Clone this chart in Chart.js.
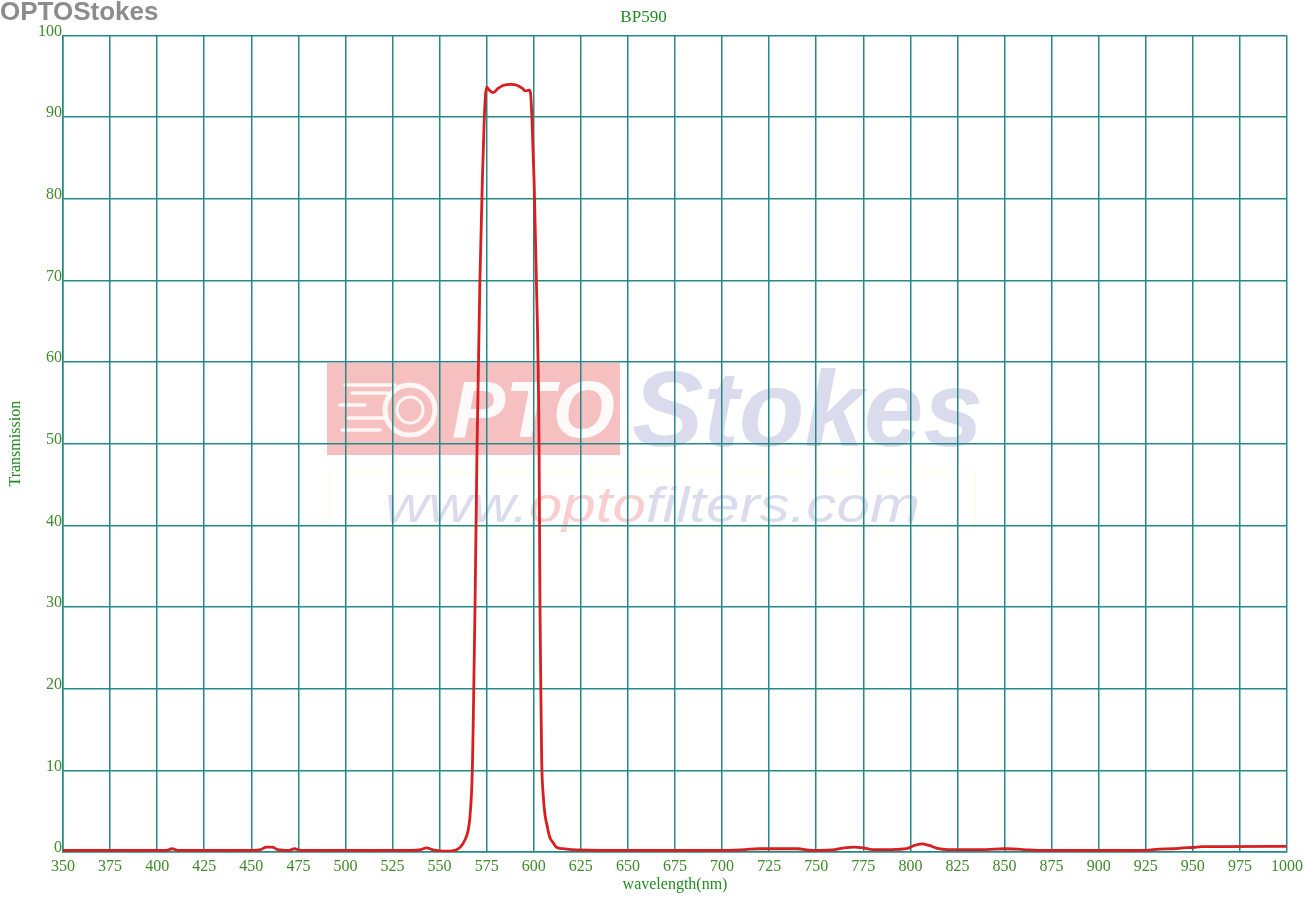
<!DOCTYPE html>
<html>
<head>
<meta charset="utf-8">
<title>BP590</title>
<script src="https://cdn.jsdelivr.net/npm/chart.js@4"></script>
<style>
  html, body { margin: 0; padding: 0; background: #fff; }
  #wrap { width: 1305px; height: 903px; position: relative; }
</style>
</head>
<body>
<div id="wrap"><canvas id="bp"></canvas></div>
<script>
// wavelength (nm) and transmission (%)
const wavelength = [350, 380, 405, 408, 411, 430, 450, 455, 458, 461, 464, 470, 473, 476, 480, 500, 520, 535, 540, 543, 546, 550, 555, 558, 561, 563.5, 565, 566, 567, 567.5, 568, 568.8, 569.9, 571.4, 572.7, 573.6, 574.3, 575, 576, 578.5, 581, 584, 588, 591, 594, 595.5, 597.6, 598.3, 599, 600.2, 601.2, 602.8, 603.3, 603.8, 604.2, 605, 606, 607.2, 608.5, 610.4, 612, 615.5, 620, 650, 700, 712, 720, 740, 748, 752, 760, 765, 770, 775, 780, 790, 798, 802, 806, 810, 815, 820, 840, 850, 860, 870, 900, 925, 932, 940, 945, 950, 955, 1000];
const transmission = [0.2, 0.2, 0.2, 0.4, 0.2, 0.2, 0.2, 0.3, 0.6, 0.6, 0.3, 0.2, 0.4, 0.2, 0.2, 0.2, 0.2, 0.2, 0.3, 0.5, 0.3, 0.15, 0.1, 0.2, 0.6, 1.5, 2.5, 4, 7.5, 11.3, 18, 30, 50, 70, 82.3, 89, 92.5, 93.7, 93.4, 93.0, 93.5, 93.9, 94.0, 93.9, 93.5, 93.2, 93.3, 92.9, 90, 82, 72, 50, 30, 19, 11.3, 7, 4.5, 3.1, 1.8, 1.1, 0.6, 0.4, 0.3, 0.2, 0.2, 0.3, 0.4, 0.4, 0.2, 0.2, 0.3, 0.5, 0.6, 0.5, 0.3, 0.3, 0.4, 0.8, 1.0, 0.8, 0.4, 0.3, 0.3, 0.4, 0.3, 0.2, 0.2, 0.2, 0.35, 0.4, 0.5, 0.55, 0.65, 0.7, 0.7];

const xMin = 350, xMax = 1000, xStep = 25;
const yMin = 0, yMax = 100, yStep = 10;
const chartTitle = "BP590";
const xTitle = "wavelength(nm)";
const yTitle = "Transmission";

const gridColor = "#238a89";
const tickColor = "#3f8a2a";
const titleColor = "#228b22";
const serif = "'Liberation Serif', 'Times New Roman', serif";
const sans = "'Liberation Sans', Arial, sans-serif";

const points = wavelength.map((w, i) => ({ x: w, y: transmission[i] }));

// faint company watermark, drawn under the grid
const watermark = {
  id: "watermark",
  beforeDraw(chart) {
    const ctx = chart.ctx;
    ctx.save();
    // top-left brand text
    ctx.fillStyle = "#8c8c8c";
    ctx.font = "bold 26px " + sans;
    ctx.textBaseline = "alphabetic";
    ctx.fillText("OPTOStokes", 0, 20);

    // pink logo box
    ctx.fillStyle = "rgba(242,150,150,0.6)";
    ctx.fillRect(327, 363, 293, 92);
    ctx.strokeStyle = "rgba(255,255,255,0.85)";
    ctx.lineWidth = 3.5;
    ctx.lineCap = "round";
    [[345, 395, 385], [352, 388, 393], [340, 365, 405], [348, 385, 418], [342, 380, 430]].forEach(([a, b, y]) => {
      ctx.beginPath(); ctx.moveTo(a, y); ctx.lineTo(b, y); ctx.stroke();
    });
    ctx.lineWidth = 5;
    ctx.beginPath(); ctx.arc(410, 410, 25, 0, Math.PI * 2); ctx.stroke();
    ctx.lineWidth = 3;
    ctx.beginPath(); ctx.arc(410, 410, 13, 0, Math.PI * 2); ctx.stroke();
    ctx.fillStyle = "rgba(255,255,255,0.92)";
    ctx.font = "italic bold 80px " + sans;
    ctx.fillText("PTO", 452, 437);

    ctx.fillStyle = "rgba(205,208,232,0.75)";
    ctx.font = "italic bold 107px " + sans;
    ctx.fillText("Stokes", 632, 446);

    // url line, stretched to the width it has in the scan
    ctx.font = "italic 50px " + sans;
    const parts = [["www.", "rgba(205,208,232,0.75)"], ["opto", "rgba(248,190,190,0.75)"], ["filters.com", "rgba(205,208,232,0.75)"]];
    const full = ctx.measureText(parts.map(p => p[0]).join("")).width;
    ctx.translate(385, 522);
    ctx.scale(535 / full, 1);
    let x = 0;
    parts.forEach(([t, c]) => {
      ctx.fillStyle = c;
      ctx.fillText(t, x, 0);
      x += ctx.measureText(t).width;
    });
    ctx.setTransform(1, 0, 0, 1, 0, 0);
    ctx.strokeStyle = "rgba(250,250,215,0.9)";
    ctx.lineWidth = 1;
    ctx.strokeRect(330, 472, 645, 56);
    ctx.restore();
  }
};

new Chart(document.getElementById("bp"), {
  type: "line",
  data: {
    datasets: [{
      data: points,
      borderColor: "#d81e1e",
      borderWidth: 2.8,
      pointRadius: 0,
      fill: false,
      cubicInterpolationMode: "monotone"
    }]
  },
  options: {
    responsive: true,
    maintainAspectRatio: false,
    animation: false,
    layout: { padding: { top: 0, right: 18, bottom: 0, left: 0 } },
    plugins: {
      legend: { display: false },
      tooltip: { enabled: false },
      title: {
        display: true,
        text: chartTitle,
        color: titleColor,
        font: { family: serif, size: 17, weight: "normal" },
        padding: { top: 7, bottom: 8 }
      }
    },
    scales: {
      x: {
        type: "linear",
        min: xMin,
        max: xMax,
        afterFit(scale) {
          scale.height = 51;
          scale.paddingRight = 0;
        },
        afterBuildTicks(scale) {
          const t = [];
          for (let v = xMin; v <= xMax; v += xStep) t.push({ value: v });
          scale.ticks = t;
        },
        ticks: {
          color: tickColor,
          font: { family: serif, size: 16 },
          padding: 5,
          maxRotation: 0,
          autoSkip: false,
          callback: v => String(v)
        },
        grid: { color: gridColor, lineWidth: 1.5, drawTicks: false },
        border: { color: gridColor, width: 1.5 },
        title: {
          display: true,
          text: xTitle,
          color: titleColor,
          font: { family: serif, size: 16 },
          padding: { top: 0, bottom: 9 }
        }
      },
      y: {
        min: yMin,
        max: yMax,
        afterFit(scale) { scale.width = 63; },
        ticks: {
          stepSize: yStep,
          color: tickColor,
          font: { family: serif, size: 16 },
          padding: 1,
          labelOffset: -4
        },
        grid: { color: gridColor, lineWidth: 1.5, drawTicks: false },
        border: { color: gridColor, width: 1.5 },
        title: {
          display: true,
          text: yTitle,
          color: titleColor,
          font: { family: serif, size: 16 },
          padding: { top: 6, bottom: 0 }
        }
      }
    }
  },
  plugins: [watermark]
});
</script>
</body>
</html>
